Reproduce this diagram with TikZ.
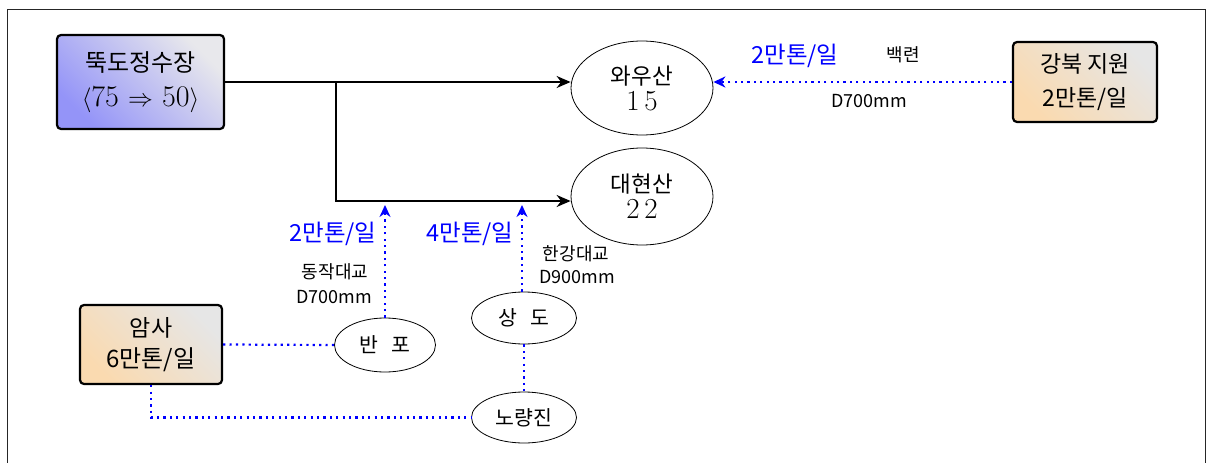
\documentclass[tikz,border=0pt]{standalone}
\usepackage{fontspec}
\newfontfamily\cjk{Noto Sans CJK KR}
\usetikzlibrary{arrows.meta,shapes.geometric}
\definecolor{bluebox}{RGB}{148,148,248}
\definecolor{graybox}{RGB}{232,232,236}
\definecolor{orbox}{RGB}{250,218,176}
\definecolor{gray2}{RGB}{230,230,230}
\definecolor{lblue}{RGB}{0,0,255}
\tikzset{
  srcbox/.style={draw=black, line width=2.2pt, rounded corners=4pt, align=center, inner sep=0pt},
  bluefill/.style={top color=bluebox, bottom color=graybox, shading angle=135},
  orfill/.style={top color=orbox, bottom color=gray2, shading angle=135},
  res/.style={draw=black, line width=0.8pt, ellipse, inner sep=0pt, align=center},
  flow/.style={line width=1.8pt, -{Stealth[length=14pt,width=12pt]}},
  supply/.style={draw=lblue, line width=2.2pt, dash pattern=on 2.2pt off 4.2pt},
  supplyarr/.style={supply, -{Stealth[length=12pt,width=11pt]}, shorten >=0pt},
  bluelbl/.style={text=lblue, font=\cjk\fontsize{23.5}{26}\selectfont, inner sep=0pt},
  pipelbl/.style={font=\cjk\fontsize{18}{20}\selectfont, inner sep=0pt, align=center},
}
\begin{document}
\begin{tikzpicture}[x=1pt,y=-1pt]
\useasboundingbox (0,0) rectangle (1210,463);
\draw[line width=0.8pt, black!85] (7,463) -- (7,9) -- (1205,9) -- (1205,463);

% source boxes
\node[srcbox, bluefill, minimum width=167pt, minimum height=94pt] (ttuk) at (140.5,82)
  {{\cjk\fontsize{24}{24}\selectfont 뚝도정수장}\\[12pt]{\fontsize{30}{30}\selectfont $\langle$75 $\Rightarrow$ 50$\rangle$}};
\node[srcbox, orfill, minimum width=144pt, minimum height=80pt] (gang) at (1085,82)
  {{\cjk\fontsize{23}{24}\selectfont 강북 지원}\\[12pt]{\cjk\fontsize{23}{24}\selectfont 2만톤/일}};
\node[srcbox, orfill, minimum width=142pt, minimum height=79pt] (amsa) at (151,344.5)
  {{\cjk\fontsize{23}{24}\selectfont 암사}\\[9pt]{\cjk\fontsize{24}{24}\selectfont 6만톤/일}};

% reservoirs
\node[res, minimum width=142pt, minimum height=94pt] (wau) at (642,88)
  {{\cjk\fontsize{22.5}{24}\selectfont 와우산}\\[4pt]{\fontsize{29}{26}\selectfont 1\,5}};
\node[res, minimum width=142pt, minimum height=97pt] (dae) at (642,196.5)
  {{\cjk\fontsize{22.5}{24}\selectfont 대현산}\\[4pt]{\fontsize{29}{26}\selectfont 2\,2}};

% pumping stations
\node[res, minimum width=101pt, minimum height=54pt] (banpo) at (385,345)
  {\cjk\fontsize{20.5}{20}\selectfont 반\hspace{0.6em}포};
\node[res, minimum width=105pt, minimum height=52pt] (sangdo) at (524,318)
  {\cjk\fontsize{20.5}{20}\selectfont 상\hspace{0.6em}도};
\node[res, minimum width=105pt, minimum height=51pt] (norang) at (524,417.5)
  {\cjk\fontsize{20.5}{20}\selectfont 노량진};

% main flows
\coordinate (br) at (336,82);
\draw[flow] (ttuk.east) -- (ttuk.east -| wau.west);
\draw[line width=1.8pt] (ttuk.east) -- (br);
\draw[flow] (br) |- ([yshift=-4.5pt]dae.west);

% supply from Gangbuk
\draw[supplyarr] (gang.west) -- (gang.west -| wau.east);
\node[bluelbl] (lblg) at (795,56) {2만톤/일};
\node[pipelbl] (bae) at (903,55) {백련};
\node[pipelbl] (d700a) at (869,101) {D700mm};

% supply from Amsa
\coordinate (tipA) at (385,205);
\coordinate (tipB) at (522,205);
\draw[supplyarr] (banpo.north) -- (tipA);
\draw[supplyarr] ([xshift=-2pt]sangdo.north) -- (tipB);
\draw[supply] (amsa.east) -- (banpo.west);
\draw[supply] (sangdo.south) -- (norang.north);
\draw[supply] (amsa.south) |- (norang.west);

\node[bluelbl] (lbla) at (333,234) {2만톤/일};
\node[pipelbl] (dongjak) at (335,272) {동작대교};
\node[pipelbl] (d700b) at (334,297) {D700mm};
\node[bluelbl] (lblb) at (470,234) {4만톤/일};
\node[pipelbl] (hangang) at (576,254) {한강대교};
\node[pipelbl] (d900) at (577,277) {D900mm};
\end{tikzpicture}
\end{document}
